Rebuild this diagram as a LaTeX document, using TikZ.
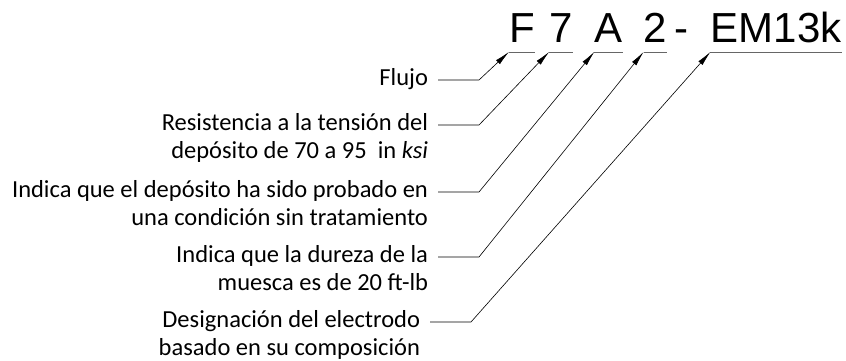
\documentclass[tikz,border=0pt]{standalone}
\usepackage{fontspec}
\setmainfont{Carlito}
\newfontfamily\codefont{Liberation Sans}
\usetikzlibrary{arrows.meta,positioning}
\tikzset{
    lbl/.style={inner sep=0pt, outer xsep=10pt, text height=17pt, text depth=6pt, font=\fontsize{24.5}{29}\selectfont},
    code/.style={inner xsep=0pt, inner ysep=9.7pt, text depth=0pt, anchor=base, font=\codefont\fontsize{42}{48}\selectfont},
    uline/.style={black!60, line width=0.8pt},
    pil/.style={-{Latex[length=15pt,width=5.5pt]}, line width=0.6pt}
}

\begin{document}
\begin{tikzpicture}[x=1pt, y=1pt]
    \useasboundingbox (0,0) rectangle (846,360);
    % designation
    \node[code] (cF) at (522,318) {F};
    \node[code] (c7) at (561,318) {7};
    \node[code] (cA) at (608.5,318) {A};
    \node[code] (c2) at (655.5,318) {2};
    \node[code] (dash) at (681,318) {-};
    \node[code] (cE) at (776,318) {EM13k};
    \foreach \c in {cF,c7,cA,c2,cE}
      \draw[uline] (\c.south west) -- (\c.south east);

    % labels
    \node[lbl, anchor=east] (flujo) at (438,280) {Flujo};
    \node[lbl, anchor=east] (resist) at (438,235) {Resistencia a la tensión del};
    \node[lbl, below=4.6pt of resist.south east, anchor=north east] (resist2)
      {depósito de 70 a 95\ \ in \textit{ksi}};
    \node[lbl, anchor=east] (probado) at (438,168) {Indica que el depósito ha sido probado en};
    \node[lbl, below=4.6pt of probado.south east, anchor=north east] (probado2)
      {una condición sin tratamiento};
    \node[lbl, anchor=east] (dureza) at (438,103) {Indica que la dureza de la};
    \node[lbl, below=4.6pt of dureza.south east, anchor=north east] (dureza2)
      {muesca es de 20 ft-lb};
    \node[lbl, anchor=east] (electrodo) at (430,38) {Designación del electrodo};
    \node[lbl, below=4.6pt of electrodo.south east, anchor=north east] (electrodo2)
      {basado en su composición};

    % leaders
    \draw[pil] (flujo.east) -- ++(41,0) -- (cF.south west);
    \draw[pil] (resist.east) -- ++(41,0) -- (c7.south west);
    \draw[pil] (probado.east) -- ++(41,0) -- (cA.south west);
    \draw[pil] (dureza.east) -- ++(41,0) -- (c2.south west);
    \draw[pil] (electrodo.east) -- ++(41,0) -- (cE.south west);
\end{tikzpicture}
\end{document}
